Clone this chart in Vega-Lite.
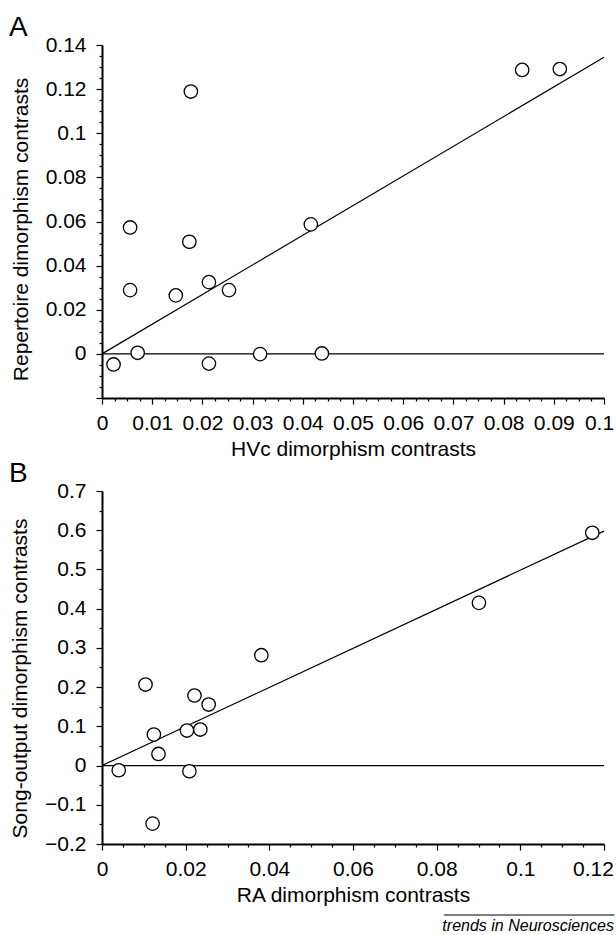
{
  "$schema": "https://vega.github.io/schema/vega-lite/v6.json",
  "padding": {"left": 9, "top": 14, "right": 0, "bottom": 0},
  "spacing": 1,
  "config": {
    "view": {"stroke": null},
    "font": "Liberation Sans",
    "axis": {
      "grid": false,
      "labelFont": "Liberation Sans",
      "labelFontSize": 21,
      "labelColor": "black",
      "titleFont": "Liberation Sans",
      "titleFontWeight": "normal",
      "titleFontSize": 21,
      "titleColor": "black",
      "domainColor": "black",
      "domainWidth": 2,
      "tickColor": "black",
      "tickWidth": 1.2,
      "labelOverlap": false,
      "labelFlush": false,
      "format": "~g"
    },
    "axisX": {"labelPadding": 8, "titlePadding": 5},
    "axisY": {"labelPadding": 10, "titlePadding": 14},
    "title": {"font": "Liberation Sans", "fontWeight": "normal", "color": "black"}
  },
  "vconcat": [
    {
      "width": 502,
      "height": 353,
      "title": {"text": "A", "anchor": "start", "frame": "group", "dx": -93, "fontSize": 28, "offset": -8},
      "encoding": {
        "x": {
          "field": "hvc", "type": "quantitative",
          "scale": {"domain": [0, 0.1], "nice": false, "zero": false},
          "axis": {
            "title": "HVc dimorphism contrasts",
            "values": [0,0.0025,0.005,0.0075,0.01,0.0125,0.015,0.0175,0.02,0.0225,0.025,0.0275,0.03,0.0325,0.035,0.0375,0.04,0.0425,0.045,0.0475,0.05,0.0525,0.055,0.0575,0.06,0.0625,0.065,0.0675,0.07,0.0725,0.075,0.0775,0.08,0.0825,0.085,0.0875,0.09,0.0925,0.095,0.0975,0.1],
            "tickSize": {"condition": {"test": "abs(datum.value*100 - round(datum.value*100)) < 1e-6", "value": 6}, "value": 3},
            "labelOffset": {"condition": {"test": "datum.value > 0.099", "value": -5}, "value": 0},
            "labelExpr": "abs(datum.value*100 - round(datum.value*100)) < 1e-6 ? datum.label : ''"
          }
        },
        "y": {
          "field": "rep", "type": "quantitative",
          "scale": {"domain": [-0.02, 0.14], "nice": false, "zero": false},
          "axis": {
            "title": "Repertoire dimorphism contrasts",
            "titleY": 184,
            "values": [-0.02,-0.015,-0.01,-0.005,0,0.005,0.01,0.015,0.02,0.025,0.03,0.035,0.04,0.045,0.05,0.055,0.06,0.065,0.07,0.075,0.08,0.085,0.09,0.095,0.1,0.105,0.11,0.115,0.12,0.125,0.13,0.135,0.14],
            "tickSize": {"condition": {"test": "abs(datum.value*50 - round(datum.value*50)) < 1e-6", "value": 6}, "value": 3},
            "labelExpr": "abs(datum.value*50 - round(datum.value*50)) < 1e-6 && datum.value > -1e-9 ? datum.label : ''"
          }
        }
      },
      "layer": [
        {
          "data": {"values": [
            {"hvc": 0, "rep": 0, "hvc2": 0.1, "rep2": 0.1344},
            {"hvc": 0, "rep": 0, "hvc2": 0.1, "rep2": 0}
          ]},
          "mark": {"type": "rule", "color": "black", "strokeWidth": 1.2},
          "encoding": {"x2": {"field": "hvc2"}, "y2": {"field": "rep2"}}
        },
        {
          "data": {"values": [
            {"hvc": 0.0023, "rep": -0.0048},
            {"hvc": 0.0056, "rep": 0.0573},
            {"hvc": 0.0056, "rep": 0.0289},
            {"hvc": 0.0071, "rep": 0.0005},
            {"hvc": 0.0147, "rep": 0.0265},
            {"hvc": 0.0174, "rep": 0.0508},
            {"hvc": 0.0177, "rep": 0.1189},
            {"hvc": 0.0213, "rep": 0.0325},
            {"hvc": 0.0213, "rep": -0.0044},
            {"hvc": 0.0253, "rep": 0.0289},
            {"hvc": 0.0315, "rep": -0.0001},
            {"hvc": 0.0416, "rep": 0.0587},
            {"hvc": 0.0438, "rep": 0.0002},
            {"hvc": 0.0837, "rep": 0.1287},
            {"hvc": 0.0912, "rep": 0.1291}
          ]},
          "mark": {"type": "point", "shape": "circle", "filled": true, "fill": "white", "stroke": "black", "strokeWidth": 1.3, "size": 180, "opacity": 1}
        }
      ]
    },
    {
      "width": 502,
      "height": 353,
      "title": {"text": "B", "anchor": "start", "frame": "group", "dx": -93, "fontSize": 28, "offset": -8},
      "encoding": {
        "x": {
          "field": "ra", "type": "quantitative",
          "scale": {"domain": [0, 0.12], "nice": false, "zero": false},
          "axis": {
            "title": "RA dimorphism contrasts",
            "values": [0,0.005,0.01,0.015,0.02,0.025,0.03,0.035,0.04,0.045,0.05,0.055,0.06,0.065,0.07,0.075,0.08,0.085,0.09,0.095,0.1,0.105,0.11,0.115,0.12],
            "tickSize": {"condition": {"test": "abs(datum.value*50 - round(datum.value*50)) < 1e-6", "value": 6}, "value": 3},
            "labelOffset": {"condition": {"test": "datum.value > 0.119", "value": -11}, "value": 0},
            "labelExpr": "abs(datum.value*50 - round(datum.value*50)) < 1e-6 ? datum.label : ''"
          }
        },
        "y": {
          "field": "song", "type": "quantitative",
          "scale": {"domain": [-0.2, 0.7], "nice": false, "zero": false},
          "axis": {
            "title": "Song-output dimorphism contrasts",
            "titleY": 187,
            "values": [-0.2,-0.15,-0.1,-0.05,0,0.05,0.1,0.15,0.2,0.25,0.3,0.35,0.4,0.45,0.5,0.55,0.6,0.65,0.7],
            "tickSize": {"condition": {"test": "abs(datum.value*10 - round(datum.value*10)) < 1e-6", "value": 6}, "value": 3},
            "labelExpr": "abs(datum.value*10 - round(datum.value*10)) < 1e-6 ? datum.label : ''"
          }
        }
      },
      "layer": [
        {
          "data": {"values": [
            {"ra": 0, "song": 0, "ra2": 0.12, "song2": 0.5977},
            {"ra": 0, "song": 0, "ra2": 0.12, "song2": 0}
          ]},
          "mark": {"type": "rule", "color": "black", "strokeWidth": 1.2},
          "encoding": {"x2": {"field": "ra2"}, "y2": {"field": "song2"}}
        },
        {
          "data": {"values": [
            {"ra": 0.0040, "song": -0.012},
            {"ra": 0.0104, "song": 0.2066},
            {"ra": 0.0121, "song": -0.148},
            {"ra": 0.0124, "song": 0.079},
            {"ra": 0.0135, "song": 0.0296},
            {"ra": 0.0203, "song": 0.0893},
            {"ra": 0.0209, "song": -0.0145},
            {"ra": 0.0221, "song": 0.1786},
            {"ra": 0.0235, "song": 0.0918},
            {"ra": 0.0255, "song": 0.1556},
            {"ra": 0.0381, "song": 0.2813},
            {"ra": 0.0901, "song": 0.4148},
            {"ra": 0.1172, "song": 0.5934}
          ]},
          "mark": {"type": "point", "shape": "circle", "filled": true, "fill": "white", "stroke": "black", "strokeWidth": 1.3, "size": 180, "opacity": 1}
        }
      ]
    },
    {
      "width": 514,
      "height": 9,
      "title": {"text": "trends in Neurosciences", "orient": "bottom", "anchor": "end", "frame": "group", "fontStyle": "italic", "fontSize": 16, "offset": 2, "dx": -2},
      "data": {"values": [{"start": 0.665, "end": 0.997}]},
      "mark": {"type": "rule", "color": "black", "strokeWidth": 1},
      "encoding": {
        "x": {"field": "start", "type": "quantitative", "scale": {"domain": [0, 1], "nice": false, "zero": false}, "axis": null},
        "x2": {"field": "end"},
        "y": {"datum": 0, "type": "quantitative", "scale": {"domain": [0, 1]}, "axis": null}
      }
    }
  ]
}
